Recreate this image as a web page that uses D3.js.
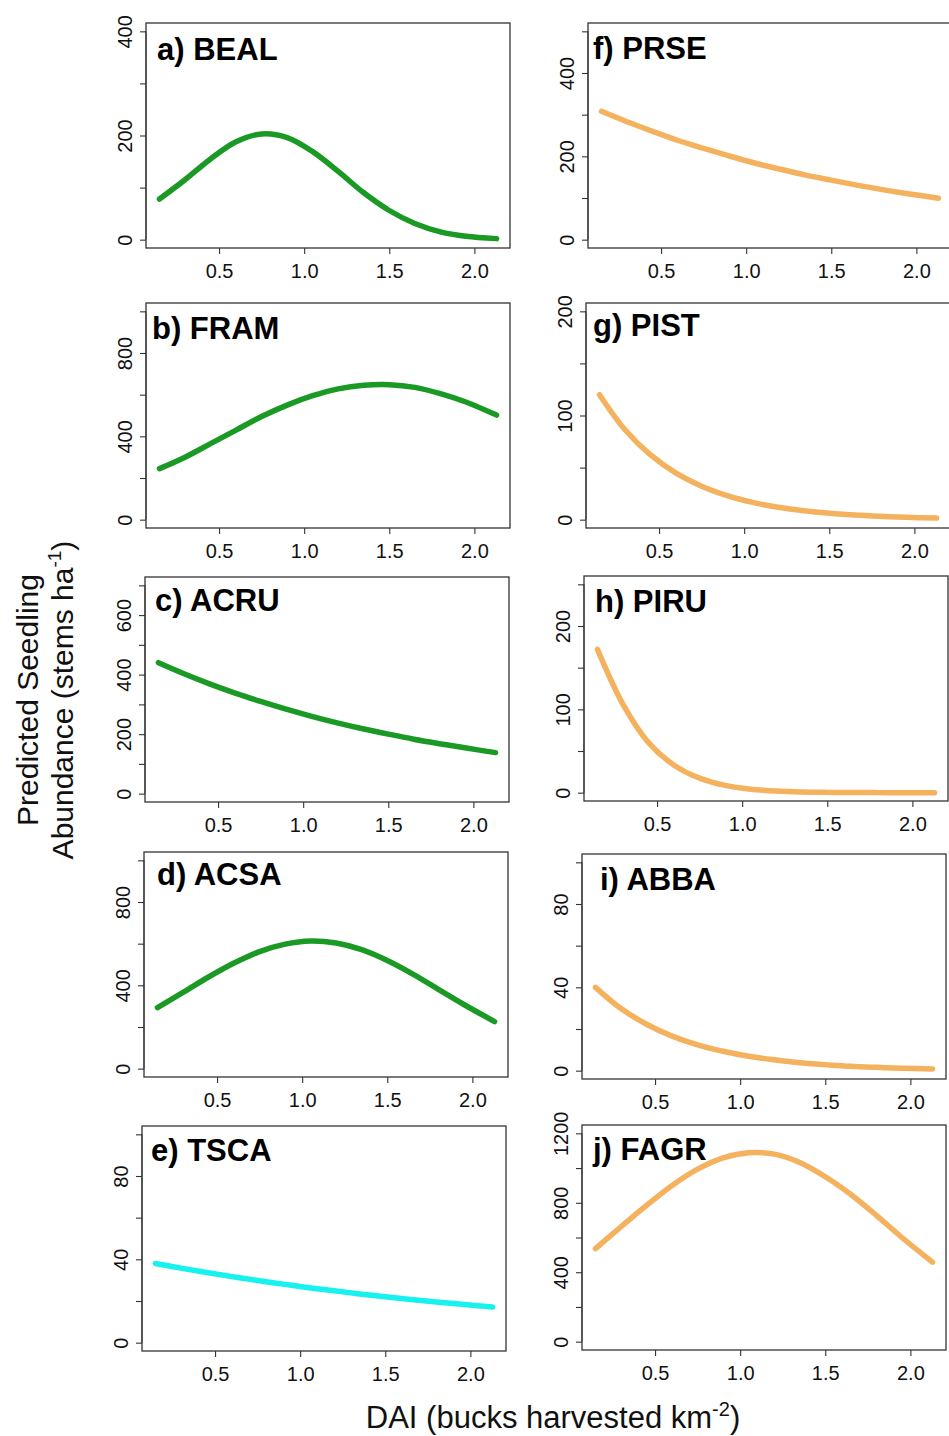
<!DOCTYPE html>
<html>
<head>
<meta charset="utf-8">
<script src="https://cdn.jsdelivr.net/npm/d3@7"></script>
<style>
  body { margin: 0; background: #fff; }
  svg { display: block; font-family: "Liberation Sans", Arial, sans-serif; }
</style>
</head>
<body>
<div id="chart"></div>
<script>
// DAI values where the predicted curves were read
var dai = [0.15, 0.3, 0.45, 0.6, 0.75, 0.9, 1.05, 1.2, 1.35, 1.5, 1.65, 1.8, 1.95, 2.13];

// predicted seedling abundance (stems / ha), one array per species
var beal = [78, 115, 155, 188, 203, 196, 169, 131, 90, 56, 31, 15, 6.6, 2];
var fram = [245, 300, 365, 430, 495, 550, 595, 628, 645, 648, 635, 605, 565, 502];
var acru = [440, 403, 369, 338, 310, 284, 260, 238, 218, 200, 183, 168, 154, 138];
var acsa = [293, 366, 440, 507, 562, 598, 613, 603, 571, 519, 454, 381, 308, 226];
var tsca = [38, 35.8, 33.7, 31.7, 29.8, 28.1, 26.4, 24.9, 23.4, 22.0, 20.7, 19.5, 18.4, 17.1];
var prse = [308, 283, 260, 238, 219, 201, 184, 169, 155, 143, 131, 120, 110, 99.5];
var pist = [120, 86.3, 62.1, 44.6, 32.1, 23.1, 16.6, 11.9, 8.6, 6.2, 4.4, 3.2, 2.3, 1.5];
var piru = [172, 106, 60, 33, 17.5, 8.8, 4.2, 1.9, 0.8, 0.35, 0.15, 0.05, 0, 0];
var abba = [40, 29.8, 22.3, 16.6, 12.4, 9.3, 6.9, 5.2, 3.8, 2.9, 2.1, 1.6, 1.2, 0.84];
var fagr = [536, 662, 785, 900, 994, 1059, 1088, 1080, 1032, 950, 848, 728, 600, 458];

var titles = ["a) BEAL", "b) FRAM", "c) ACRU", "d) ACSA", "e) TSCA",
              "f) PRSE", "g) PIST", "h) PIRU", "i) ABBA", "j) FAGR"];
var series = [beal, fram, acru, acsa, tsca, prse, pist, piru, abba, fagr];

// y limits, tick step and which ticks get a label
var yMax = [400, 1000, 700, 1000, 100, 500, 200, 250, 100, 1200];
var yStep = [100, 200, 100, 200, 20, 100, 50, 50, 20, 200];
var yLabels = [[0, 200, 400], [0, 400, 800], [0, 200, 400, 600], [0, 400, 800], [0, 40, 80],
               [0, 200, 400], [0, 100, 200], [0, 100, 200], [0, 40, 80], [0, 400, 800, 1200]];
var xTicks = [0.5, 1.0, 1.5, 2.0];

var green = "#1a9a24", orange = "#f4b25f", cyan = "#18f2ee";
var colors = [green, green, green, green, cyan, orange, orange, orange, orange, orange];

// panel boxes (left, top) and title offsets
var layout = [
  {x: 146, y: 23, tx: 11, ty: 37}, {x: 146, y: 303, tx: 6, ty: 36},
  {x: 145, y: 577, tx: 10, ty: 34}, {x: 144, y: 852, tx: 13, ty: 33},
  {x: 142, y: 1126, tx: 9, ty: 35},
  {x: 588, y: 23, tx: 5, ty: 36}, {x: 586, y: 303, tx: 7, ty: 33},
  {x: 584, y: 576, tx: 11, ty: 36}, {x: 582, y: 854, tx: 18, ty: 36},
  {x: 582, y: 1125, tx: 11, ty: 35}
];
var pw = 364, ph = 225;

var svg = d3.select('#chart').append('svg')
    .attr('width', 949)
    .attr('height', 1436);

svg.append('rect').attr('width', 949).attr('height', 1436).attr('fill', '#fff');

var xPad = (dai[dai.length - 1] - dai[0]) * 0.04;
var x = d3.scaleLinear()
    .domain([dai[0] - xPad, dai[dai.length - 1] + xPad])
    .range([0, pw]);

series.forEach(function(vals, i) {
    var L = layout[i];
    var yPad = yMax[i] * 0.04;
    var y = d3.scaleLinear().domain([-yPad, yMax[i] + yPad]).range([ph, 0]);
    var g = svg.append('g').attr('transform', 'translate(' + L.x + ',' + L.y + ')');

    var yAxis = d3.axisLeft(y)
        .tickValues(d3.range(0, yMax[i] + 1, yStep[i]))
        .tickSize(6).tickSizeOuter(0)
        .tickFormat(function(d) { return yLabels[i].indexOf(d) >= 0 ? d : ""; });
    var ya = g.append('g').call(yAxis);
    ya.select('.domain').attr('d', 'M0,' + y(0) + 'V' + y(yMax[i])).attr('stroke', '#333');
    ya.selectAll('line').attr('stroke', '#333').attr('stroke-width', 1.1);
    ya.selectAll('text')
        .attr('font-size', 20).attr('fill', '#111')
        .attr('font-family', '"Liberation Sans", Arial, sans-serif')
        .attr('text-anchor', 'middle')
        .attr('transform', 'rotate(-90)')
        .attr('x', 0).attr('y', -14).attr('dy', 0);

    var xAxis = d3.axisBottom(x).tickValues(xTicks).tickSize(6).tickSizeOuter(0)
        .tickFormat(d3.format('.1f'));
    var xa = g.append('g').attr('transform', 'translate(0,' + ph + ')').call(xAxis);
    xa.select('.domain').remove();
    xa.selectAll('line').attr('stroke', '#333').attr('stroke-width', 1.1);
    xa.selectAll('text')
        .attr('font-size', 20).attr('fill', '#111')
        .attr('font-family', '"Liberation Sans", Arial, sans-serif')
        .attr('y', 30).attr('dy', 0);

    g.append('rect')
        .attr('width', pw).attr('height', ph)
        .attr('fill', 'none').attr('stroke', '#333').attr('stroke-width', 1.3);

    var line = d3.line()
        .x(function(d, j) { return x(dai[j]); })
        .y(function(d) { return y(d); })
        .curve(d3.curveCatmullRom.alpha(0.5));

    g.append('path')
        .datum(vals)
        .attr('d', line)
        .attr('fill', 'none')
        .attr('stroke', colors[i])
        .attr('stroke-width', 5.5)
        .attr('stroke-linecap', 'round');

    g.append('text')
        .attr('x', L.tx).attr('y', L.ty)
        .attr('font-size', 31).attr('font-weight', 'bold').attr('fill', '#000')
        .text(titles[i]);
});

// axis titles
var xt = svg.append('text')
    .attr('x', 553).attr('y', 1428)
    .attr('text-anchor', 'middle')
    .attr('font-size', 31).attr('fill', '#111');
xt.append('tspan').text('DAI (bucks harvested km');
xt.append('tspan').attr('font-size', 20).attr('dy', -12).text('-2');
xt.append('tspan').attr('dy', 12).text(')');

var yt = svg.append('g').attr('transform', 'translate(0,700) rotate(-90)');
yt.append('text')
    .attr('x', 0).attr('y', 38)
    .attr('text-anchor', 'middle')
    .attr('font-size', 30).attr('fill', '#111')
    .text('Predicted Seedling');
var yt2 = yt.append('text')
    .attr('x', 0).attr('y', 73)
    .attr('text-anchor', 'middle')
    .attr('font-size', 30).attr('fill', '#111');
yt2.append('tspan').text('Abundance (stems ha');
yt2.append('tspan').attr('font-size', 19).attr('dy', -12).text('-1');
yt2.append('tspan').attr('dy', 12).text(')');
</script>
</body>
</html>
